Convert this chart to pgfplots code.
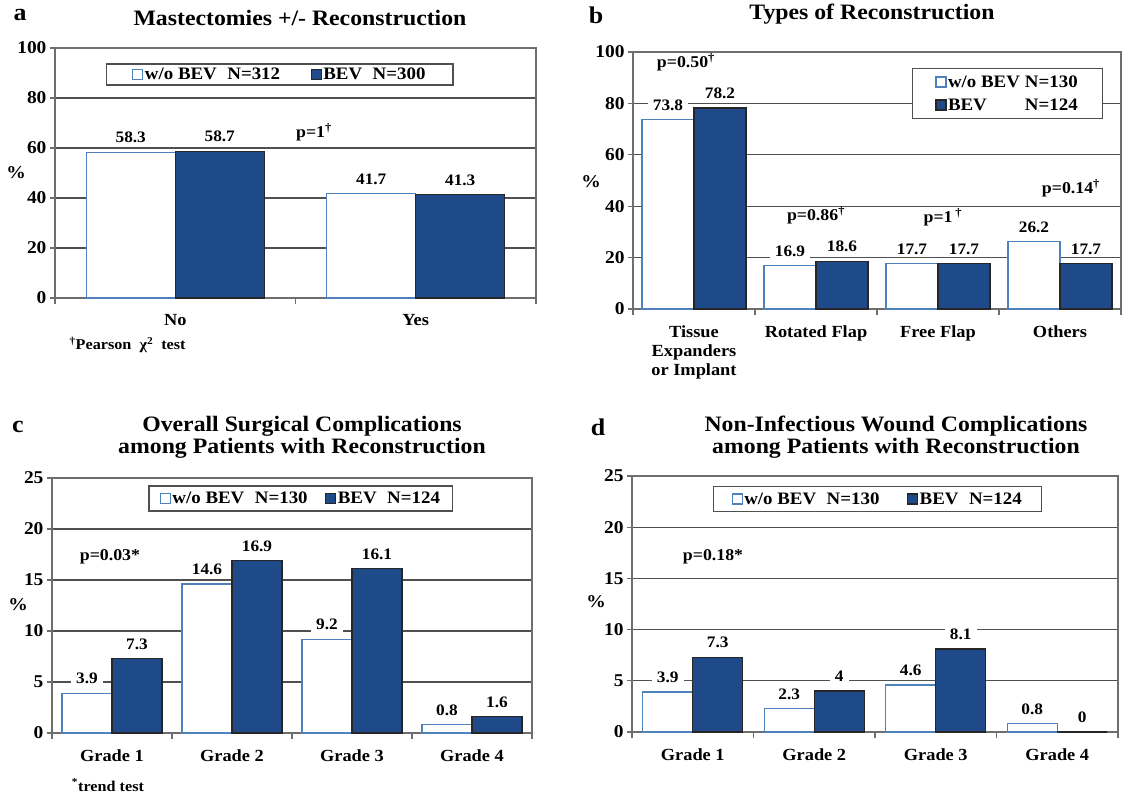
\documentclass[border=0pt]{standalone}
\usepackage{fontspec}
\setmainfont{Liberation Serif}[FakeStretch=1.08]
\usepackage{pgfplots}
\pgfplotsset{compat=1.18}
\definecolor{navy}{HTML}{1F4A8A}
\definecolor{lblue}{HTML}{4F81BD}
\definecolor{gridc}{HTML}{505050}
\definecolor{framec}{HTML}{6E6E6E}
\newcommand{\fs}[2]{\fontsize{#1}{#2}\selectfont}
\tikzset{pval/.style={font=\fs{16.5}{18}\bfseries, text=black}}
\pgfplotsset{
  panel/.style={
    scale only axis, anchor=south west, ybar, ymin=0, clip=false,
    axis line style={framec, line width=1.5pt},
    ymajorgrids, grid style={gridc, line width=1.2pt},
    tick style={framec, line width=1.2pt},
    tick align=outside, tick pos=left,
    major tick length=5pt, minor tick length=6pt,
    major x tick style={draw=none},
    /pgf/number format/assume math mode=true,
    yticklabel style={font=\fs{18}{19}\bfseries},
    xticklabel style={font=\fs{17}{19}\bfseries, align=center, yshift=-8pt},
    nodes near coords,
    every node near coord/.append style={font=\fs{16}{17}\bfseries, fill=white, draw=none, text=black, inner xsep=5pt, inner ysep=3pt, anchor=south, yshift=5.5pt},
    legend image code/.code={\draw[##1, line width=1.2pt] (0pt,-5pt) rectangle (10pt,5pt);},
    legend style={draw=gridc, line width=1.5pt, font=\fs{17.5}{19}\bfseries, anchor=center, cells={anchor=west}, nodes={inner xsep=1.5pt, inner ysep=2pt}},
  },
  wbar/.style={fill=white, draw=lblue, line width=1.2pt},
  dbar/.style={fill=navy, draw=black!85, line width=1.2pt},
}
\begin{document}
\begin{tikzpicture}
\path[use as bounding box] (0pt,0pt) rectangle (1128pt,-800pt);
% ---------- panel a
\begin{axis}[panel, at={(55pt,-298pt)}, width=481pt, height=250pt,
  xmin=-0.5, xmax=1.5, ymax=100, ytick={0,20,...,100},
  xtick={0,1}, xticklabels={No,Yes}, minor xtick={-0.5,0.5,1.5},
  bar width=89pt, legend columns=2,
  legend style={at={(0.467,0.894)}, inner xsep=26pt, inner ysep=2pt, /tikz/every even column/.append style={column sep=29pt}}]
\addplot[wbar, bar shift=-44.5pt] coordinates {(0,58.3) (1,41.7)};
\addplot[dbar, bar shift=44.5pt] coordinates {(0,58.7) (1,41.3)};
\legend{w/o BEV\hspace{0.6em}N=312, BEV\hspace{0.6em}N=300}
\node[pval] at (axis cs:0.577,66.4) {p=1\textsuperscript{†}};
\end{axis}
% ---------- panel b
\begin{axis}[panel, at={(633pt,-309pt)}, width=488pt, height=257pt,
  xmin=-0.5, xmax=3.5, ymax=100, ytick={0,20,...,100},
  xtick={0,1,2,3}, xticklabels={{Tissue\\Expanders\\or Implant},Rotated Flap,Free Flap,Others},
  minor xtick={-0.5,0.5,1.5,2.5,3.5},
  bar width=52pt, legend columns=1,
  legend style={at={(0.767,0.8385)}, inner ysep=5pt, inner xsep=23pt, row sep=6pt}]
\addplot[wbar, bar shift=-26pt] coordinates {(0,73.8) (1,16.9) (2,17.7) (3,26.2)};
\addplot[dbar, bar shift=26pt] coordinates {(0,78.2) (1,18.6) (2,17.7) (3,17.7)};
\legend{\makebox[4.4em][l]{w/o BEV}N=130, \makebox[4.4em][l]{BEV}N=124}
\node[pval] at (axis cs:-0.066,96.1) {p=0.50\textsuperscript{†}};
\node[pval] at (axis cs:1.0,36.6) {p=0.86\textsuperscript{†}};
\node[pval] at (axis cs:2.04,35.8) {p=1\,\textsuperscript{†}};
\node[pval] at (axis cs:3.09,47.1) {p=0.14\textsuperscript{†}};
\end{axis}
% ---------- panel c
\begin{axis}[panel, at={(52pt,-733pt)}, width=480pt, height=255pt,
  xmin=-0.5, xmax=3.5, ymax=25, ytick={0,5,...,25},
  xtick={0,1,2,3}, xticklabels={Grade 1,Grade 2,Grade 3,Grade 4},
  minor xtick={-0.5,0.5,1.5,2.5,3.5},
  bar width=50pt, legend columns=2,
  legend style={at={(0.518,0.92)}, inner xsep=11pt, inner ysep=4pt, /tikz/every even column/.append style={column sep=16pt}}]
\addplot[wbar, bar shift=-25pt] coordinates {(0,3.9) (1,14.6) (2,9.2) (3,0.8)};
\addplot[dbar, bar shift=25pt] coordinates {(0,7.3) (1,16.9) (2,16.1) (3,1.6)};
\legend{w/o BEV\hspace{0.6em}N=130, BEV\hspace{0.6em}N=124}
\node[pval] at (axis cs:-0.017,17.25) {p=0.03*};
\end{axis}
% ---------- panel d
\begin{axis}[panel, at={(632pt,-732pt)}, width=486pt, height=256pt,
  xmin=-0.5, xmax=3.5, ymax=25, ytick={0,5,...,25},
  xtick={0,1,2,3}, xticklabels={Grade 1,Grade 2,Grade 3,Grade 4},
  minor xtick={-0.5,0.5,1.5,2.5,3.5},
  bar width=50pt, legend columns=2,
  legend style={at={(0.505,0.91)}, inner xsep=18pt, inner ysep=4pt, /tikz/every even column/.append style={column sep=26pt}}]
\addplot[wbar, bar shift=-25pt] coordinates {(0,3.9) (1,2.3) (2,4.6) (3,0.8)};
\addplot[dbar, bar shift=25pt] coordinates {(0,7.3) (1,4) (2,8.1) (3,0)};
\legend{w/o BEV\hspace{0.6em}N=130, BEV\hspace{0.6em}N=124}
\node[pval] at (axis cs:0.167,17.1) {p=0.18*};
\end{axis}
% ---------- titles, letters, labels
\begin{scope}[every node/.style={font=\fs{22}{22}\bfseries, align=center}]
\node at (300pt,-18pt) {Mastectomies +/- Reconstruction};
\node at (872pt,-14pt) {Types of Reconstruction};
\node at (302pt,-437pt) {Overall Surgical Complications\\among Patients with Reconstruction};
\node at (896pt,-437pt) {Non-Infectious Wound Complications\\among Patients with Reconstruction};
\end{scope}
\begin{scope}[every node/.style={font=\fs{24}{26}\bfseries}]
\node at (20pt,-15pt) {a};
\node at (596pt,-15pt) {b};
\node at (18pt,-427pt) {c};
\node at (598pt,-427pt) {d};
\end{scope}
\begin{scope}[every node/.style={font=\fs{18}{19}\bfseries}]
\node at (16pt,-173pt) {\%};
\node at (591pt,-182pt) {\%};
\node at (18pt,-605pt) {\%};
\node at (596pt,-602pt) {\%};
\end{scope}
\node[font=\fs{15}{17}\bfseries, anchor=west] at (66pt,-345pt) {\textsuperscript{†}Pearson\ \ χ\textsuperscript{2}\ \ test};
\node[font=\fs{15}{17}\bfseries] at (108pt,-785pt) {\textsuperscript{*}trend test};
\end{tikzpicture}
\end{document}
